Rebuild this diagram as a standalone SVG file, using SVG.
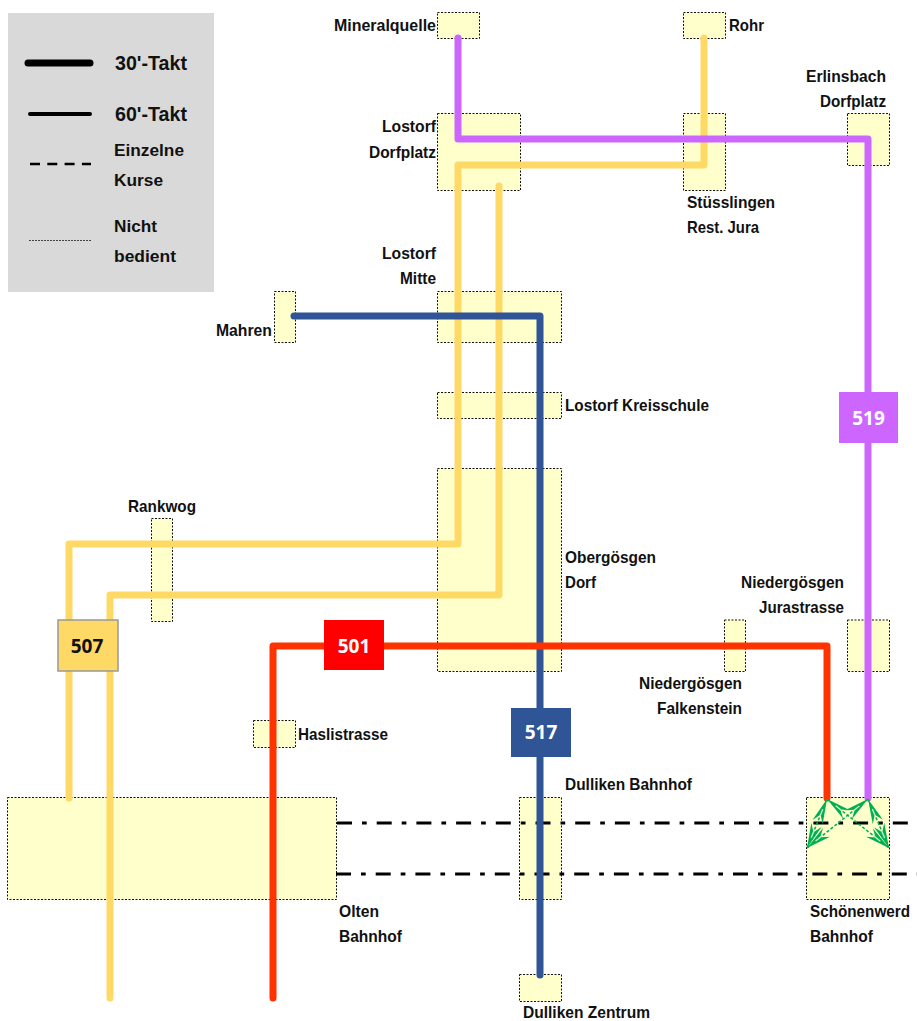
<svg xmlns="http://www.w3.org/2000/svg" width="917" height="1021" viewBox="0 0 917 1021">
<style>
text{font-family:"Liberation Sans",Arial,sans-serif;font-weight:700;font-size:16.5px;fill:#111}
.legend{font-size:20px}
.n{fill:#ffffcc;stroke:#111;stroke-width:1;stroke-dasharray:2 1.5}
.l{fill:none;stroke-width:7;stroke-linecap:round;stroke-linejoin:round}
.y{stroke:#ffd966}.p{stroke:#cc66ff}.b{stroke:#2f5597}.r{stroke:#ff3300}
.rail{fill:none;stroke:#000;stroke-width:3;stroke-dasharray:15 10 4.7 10}
.g{fill:none;stroke:#00b050;stroke-width:1.5;stroke-dasharray:3 2;marker-start:url(#stealth);marker-end:url(#stealth)}
.badge{font-family:"Open Sans","Noto Sans",sans-serif;font-size:19px;text-anchor:middle}
</style>
<defs>
<marker id="stealth" markerUnits="userSpaceOnUse" markerWidth="30" markerHeight="20" refX="25" refY="10" orient="auto-start-reverse">
<path d="M25 10L0 4.500L8 10L0 15.500Z" fill="#00b050"/>
<path d="M6 10H14" stroke="#d0f0d0" stroke-width="1.300"/>
</marker>
</defs>
<g id="legend">
<rect x="8" y="13" width="206" height="279" fill="#d9d9d9"/>
<path d="M28 63H90" stroke="#000" stroke-width="7" stroke-linecap="round"/>
<path d="M30 114H90" stroke="#000" stroke-width="4" stroke-linecap="round"/>
<path d="M30 164H91" stroke="#000" stroke-width="2.500" stroke-dasharray="10 7.300"/>
<path d="M29 240.500H91" stroke="#444" stroke-width="1" stroke-dasharray="2 1"/>
<text class="legend" x="115" y="70" textLength="72" lengthAdjust="spacingAndGlyphs">30'-Takt</text>
<text class="legend" x="115" y="121" textLength="72" lengthAdjust="spacingAndGlyphs">60'-Takt</text>
<text x="114" y="156" textLength="70" lengthAdjust="spacingAndGlyphs">Einzelne</text>
<text x="114" y="186" textLength="49" lengthAdjust="spacingAndGlyphs">Kurse</text>
<text x="114" y="232" textLength="43" lengthAdjust="spacingAndGlyphs">Nicht</text>
<text x="114" y="262" textLength="62" lengthAdjust="spacingAndGlyphs">bedient</text>
</g>
<g id="node-mineralquelle"><rect class="n" x="437.500" y="12.500" width="42" height="26"/><text x="334" y="31" textLength="102" lengthAdjust="spacingAndGlyphs">Mineralquelle</text></g>
<g id="node-rohr"><rect class="n" x="683.500" y="12.500" width="42" height="26"/><text x="729" y="31" textLength="35" lengthAdjust="spacingAndGlyphs">Rohr</text></g>
<g id="node-erlinsbach"><rect class="n" x="847.500" y="113.500" width="42" height="52"/><text x="806" y="82" textLength="80" lengthAdjust="spacingAndGlyphs">Erlinsbach</text><text x="820" y="107" textLength="66" lengthAdjust="spacingAndGlyphs">Dorfplatz</text></g>
<g id="node-lostorf-dorfplatz"><rect class="n" x="437.500" y="113.500" width="83" height="77"/><text x="382" y="132" textLength="54" lengthAdjust="spacingAndGlyphs">Lostorf</text><text x="369" y="158" textLength="67" lengthAdjust="spacingAndGlyphs">Dorfplatz</text></g>
<g id="node-stuesslingen"><rect class="n" x="683.500" y="113.500" width="42" height="77"/><text x="687" y="208" textLength="88" lengthAdjust="spacingAndGlyphs">Stüsslingen</text><text x="687" y="233" textLength="72" lengthAdjust="spacingAndGlyphs">Rest. Jura</text></g>
<g id="node-lostorf-mitte"><rect class="n" x="437.500" y="291.500" width="124" height="51"/><text x="382" y="259" textLength="54" lengthAdjust="spacingAndGlyphs">Lostorf</text><text x="400" y="284" textLength="36" lengthAdjust="spacingAndGlyphs">Mitte</text></g>
<g id="node-mahren"><rect class="n" x="274.500" y="291.500" width="21" height="51"/><text x="216" y="336" textLength="56" lengthAdjust="spacingAndGlyphs">Mahren</text></g>
<g id="node-kreisschule"><rect class="n" x="437.500" y="392.500" width="124" height="26"/><text x="565" y="411" textLength="144" lengthAdjust="spacingAndGlyphs">Lostorf Kreisschule</text></g>
<g id="node-obergoesgen"><rect class="n" x="437.500" y="468.500" width="124" height="203"/><text x="565" y="563" textLength="91" lengthAdjust="spacingAndGlyphs">Obergösgen</text><text x="565" y="588" textLength="31" lengthAdjust="spacingAndGlyphs">Dorf</text></g>
<g id="node-rankwog"><rect class="n" x="151.500" y="518.500" width="21" height="103"/><text x="128" y="512" textLength="68" lengthAdjust="spacingAndGlyphs">Rankwog</text></g>
<g id="node-falkenstein"><rect class="n" x="724.500" y="620" width="21" height="51.500"/><text x="639" y="689" textLength="103" lengthAdjust="spacingAndGlyphs">Niedergösgen</text><text x="657" y="714" textLength="85" lengthAdjust="spacingAndGlyphs">Falkenstein</text></g>
<g id="node-jurastrasse"><rect class="n" x="847.500" y="620" width="42" height="51.500"/><text x="741" y="588" textLength="103" lengthAdjust="spacingAndGlyphs">Niedergösgen</text><text x="759" y="613" textLength="85" lengthAdjust="spacingAndGlyphs">Jurastrasse</text></g>
<g id="node-haslistrasse"><rect class="n" x="253.500" y="720.500" width="42" height="27"/><text x="298" y="740" textLength="90" lengthAdjust="spacingAndGlyphs">Haslistrasse</text></g>
<g id="node-olten"><rect class="n" x="7.500" y="797.500" width="329" height="102"/><text x="339" y="917" textLength="40" lengthAdjust="spacingAndGlyphs">Olten</text><text x="339" y="942" textLength="63" lengthAdjust="spacingAndGlyphs">Bahnhof</text></g>
<g id="node-dulliken-bahnhof"><rect class="n" x="519.500" y="797.500" width="42" height="102"/><text x="565" y="790" textLength="127" lengthAdjust="spacingAndGlyphs">Dulliken Bahnhof</text></g>
<g id="node-schoenenwerd"><rect class="n" x="806.500" y="797.500" width="83" height="102"/><text x="810" y="917" textLength="100" lengthAdjust="spacingAndGlyphs">Schönenwerd</text><text x="810" y="942" textLength="63" lengthAdjust="spacingAndGlyphs">Bahnhof</text></g>
<g id="node-dulliken-zentrum"><rect class="n" x="519.500" y="974.500" width="42" height="27"/><text x="523" y="1018" textLength="127" lengthAdjust="spacingAndGlyphs">Dulliken Zentrum</text></g>
<g id="connectors">
<path class="rail" d="M337 823H917M336 874H917"/>
<path class="l y" d="M704 38V165H458V544H69V798"/>
<path class="l y" d="M499 186V595H110V998"/>
<path class="l p" d="M458 38V139H868V798"/>
<path class="l b" d="M294 316H540V975"/>
<path class="l r" d="M273 998V646H827V798"/>
<g id="transfer-arrows">
<path class="g" d="M827 799L807 848"/>
<path class="g" d="M827 799L889 848"/>
<path class="g" d="M868 799L807 848"/>
<path class="g" d="M868 799L889 848"/>
</g>
</g>
<g id="badge-519"><rect x="839" y="392" width="59" height="51" fill="#cc66ff"/><text class="badge" x="868.500" y="425" style="fill:#fff">519</text></g>
<g id="badge-507"><rect x="58" y="620" width="60" height="51" fill="#ffd966" stroke="#999" stroke-width="1.500"/><text class="badge" x="87" y="653">507</text></g>
<g id="badge-501"><rect x="324" y="620" width="60" height="50" fill="#ff0000"/><text class="badge" x="354" y="653" style="fill:#fff">501</text></g>
<g id="badge-517"><rect x="511" y="708" width="60" height="49" fill="#2f5597"/><text class="badge" x="541" y="739" style="fill:#fff">517</text></g>
</svg>
